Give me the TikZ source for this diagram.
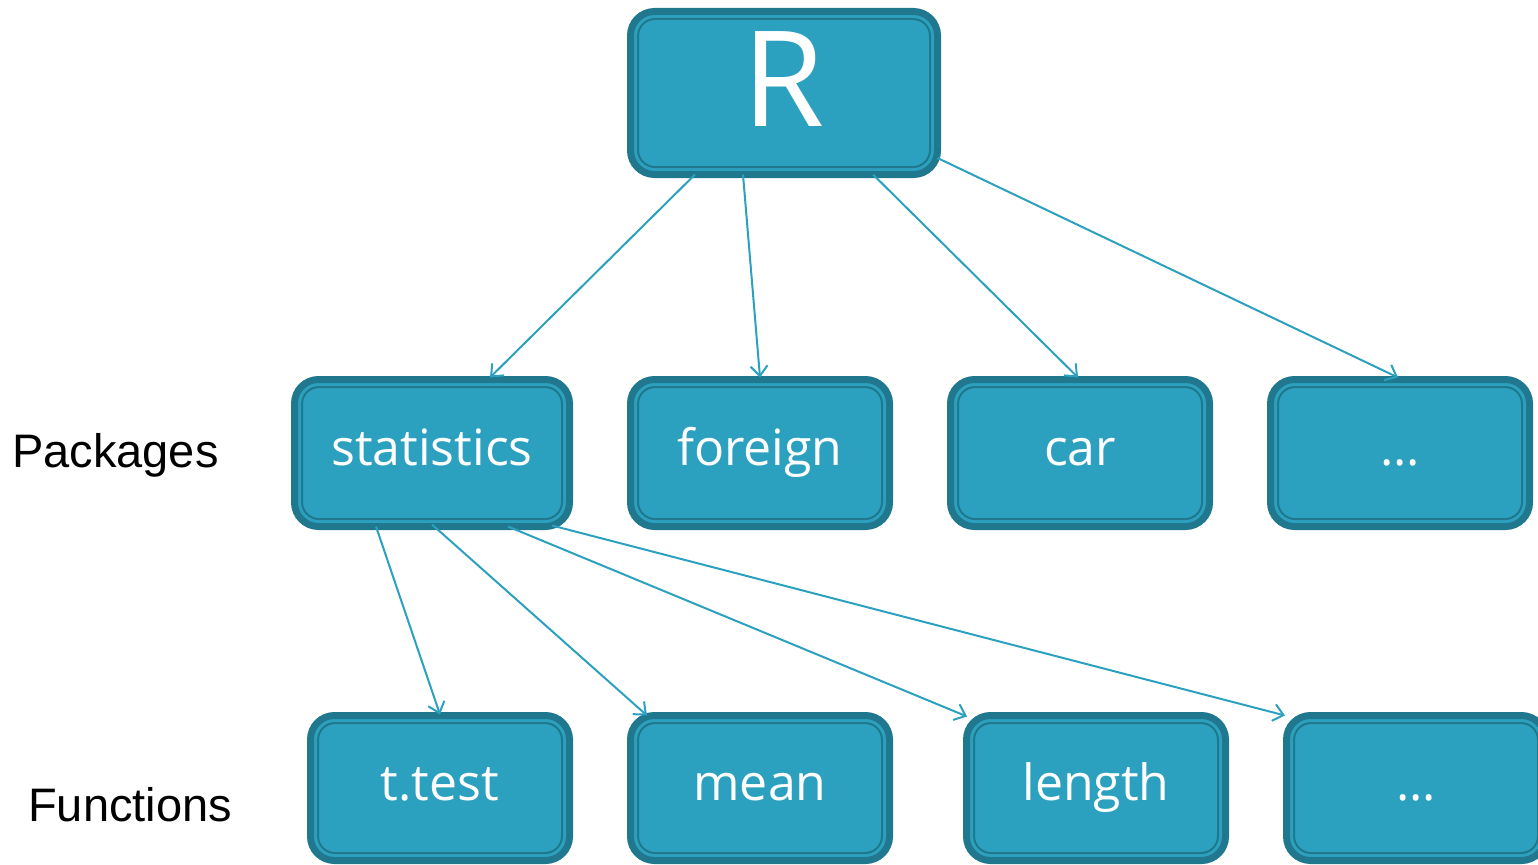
\documentclass[tikz,border=0pt]{standalone}
\usepackage{fontspec}
\setmainfont{Open Sans}
\newfontfamily\labelfont{Liberation Sans}
\usetikzlibrary{arrows.meta,calc}
\definecolor{boxfill}{RGB}{44,161,191}
\definecolor{boxdark}{RGB}{31,120,142}
\tikzset{
  box/.style={rectangle, rounded corners=24pt, fill=boxfill, draw=boxdark,
    line width=7pt, outer sep=0pt, inner sep=0pt, text=white,
    font=\fontsize{50}{60}\selectfont, text height=37pt, text depth=13pt},
  midbox/.style={box, minimum width=259pt, minimum height=147pt},
  lowbox/.style={box, minimum width=259pt, minimum height=145pt},
  innerline/.style={draw=boxdark, line width=2pt, rounded corners=17pt},
  conn/.style={draw=boxfill, line width=2pt, -{Straight Barb[length=10pt,width=17pt,line width=2pt]}},
  rowlabel/.style={anchor=base west, inner sep=0pt, font=\labelfont\fontsize{47}{56}\selectfont}
}
\begin{document}
\begin{tikzpicture}[x=1pt,y=-1pt]
\useasboundingbox (0,0) rectangle (1538,864);
% nodes
\node[box, minimum width=307pt, minimum height=163pt, font=\fontsize{133}{150}\selectfont,
      text height=95pt, text depth=27pt] (R) at (784,93) {R};
\node[midbox, minimum width=275pt] (stat) at (432,453) {statistics};
\node[midbox] (foreign) at (760,453) {foreign};
\node[midbox] (car) at (1080,453) {car};
\node[midbox] (pdots) at (1400,453) {...};
\node[lowbox] (ttest) at (440,788) {t.test};
\node[lowbox] (mean) at (760,788) {mean};
\node[lowbox] (length) at (1096,788) {length};
\node[lowbox] (fdots) at (1416,788) {...};
% inner rings
\foreach \n in {R,stat,foreign,car,pdots,ttest,mean,length,fdots}{
  \draw[innerline] ($(\n.north west)+(7.5,7.5)$) rectangle ($(\n.south east)+(-7.5,-7.5)$);
}
% row labels
\node[rowlabel] (pk) at (12,467) {Packages};
\node[rowlabel] (fn) at (28,821) {Functions};
% connectors from R
\draw[conn] ($(R.south)+(-89,0)$) -- ($(stat.north)+(58,-2)$);
\draw[conn] ($(R.south)+(-41,0)$) -- ($(foreign.north)+(0,-2)$);
\draw[conn] ($(R.south)+(89,0)$) -- ($(car.north)+(-2,-2)$);
\draw[conn] ($(R.east)+(0,65)$) -- ($(pdots.north)+(-2,-2)$);
% connectors from statistics
\draw[conn] ($(stat.south)+(-56,0)$) -- ($(ttest.north)+(0,-1)$);
\draw[conn] ($(stat.south)+(0,-2)$) -- ($(mean.north)+(-113,0)$);
\draw[conn] ($(stat.south)+(76,0)$) -- ($(length.north)+(-129,1)$);
\draw[conn] ($(stat.south)+(120,-1)$) -- ($(fdots.north)+(-131,0)$);
\end{tikzpicture}
\end{document}
